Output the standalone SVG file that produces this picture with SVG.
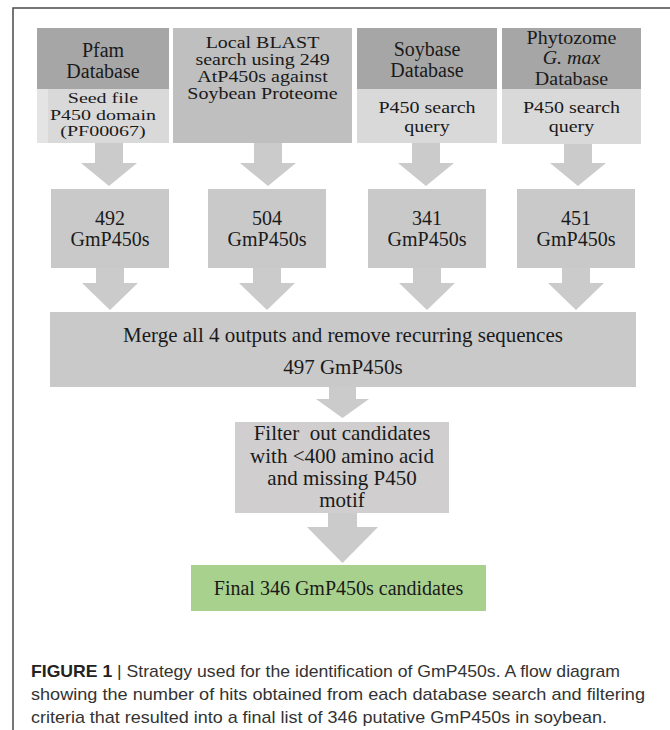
<svg xmlns="http://www.w3.org/2000/svg" width="670" height="730" viewBox="0 0 670 730">
<style>
.t{font-family:"Liberation Serif","Times New Roman",serif;font-size:20px;fill:#1a1a1a;text-anchor:middle}
.t21{font-size:21px}
.hd{fill:#a6a6a6}
.lt{fill:#d9d9d9}
.md{fill:#bfbfbf}
.gr{fill:#c9c9c9}
.fl{fill:#d0cece}
.gn{fill:#a9d18e}
.ar{fill:#cbcbcb}
.cap{font-family:"Liberation Sans",Arial,sans-serif;font-size:17px;fill:#333}
</style>
<rect width="670" height="730" fill="#ffffff"/>
<g id="frame" fill="none" stroke="#4a4a4a" stroke-width="1.5">
<path d="M13 730 V8 H670"/>
</g>
<g id="connectors">
<polygon class="ar" points="95,143 123,143 123,163 137,163 109,186 81,163 95,163"/>
<polygon class="ar" points="254,143 282,143 282,163 296,163 268,186 240,163 254,163"/>
<polygon class="ar" points="412,143 440,143 440,163 454,163 426,186 398,163 412,163"/>
<polygon class="ar" points="564,143 592,143 592,163 606,163 578,186 550,163 564,163"/>
<polygon class="ar" points="96,268 124,268 124,283 138,283 110,310 82,283 96,283"/>
<polygon class="ar" points="253,268 281,268 281,283 295,283 267,310 239,283 253,283"/>
<polygon class="ar" points="413,268 441,268 441,283 455,283 427,310 399,283 413,283"/>
<polygon class="ar" points="562,268 590,268 590,283 604,283 576,310 548,283 562,283"/>
<polygon class="ar" points="329,387 356,387 356,399 369,399 342.5,418 316,399 329,399"/>
<polygon class="ar" points="328,513 357,513 357,527 378,527 342.5,563 307,527 328,527"/>
</g>
<g id="pfam">
<rect class="hd" x="37" y="28" width="132" height="61"/>
<rect class="lt" x="37" y="89" width="132" height="54"/>
<rect x="37" y="89" width="11" height="54" fill="#e4e4e4"/>
<text class="t" x="103" y="57">Pfam</text>
<text class="t" x="103" y="78">Database</text>
<text class="t" transform="translate(103,103) scale(1,0.76)">Seed file</text>
<text class="t" transform="translate(103,119.5) scale(1,0.76)">P450 domain</text>
<text class="t" transform="translate(103,136) scale(1,0.76)">(PF00067)</text>
</g>
<g id="blast">
<rect class="md" x="173" y="28" width="179" height="115"/>
<text class="t" transform="translate(262.5,48) scale(1,0.82)">Local BLAST</text>
<text class="t" transform="translate(262.5,65) scale(1,0.82)">search using 249</text>
<text class="t" transform="translate(262.5,82) scale(1,0.82)">AtP450s against</text>
<text class="t" transform="translate(262.5,99) scale(1,0.82)">Soybean Proteome</text>
</g>
<g id="soybase">
<rect class="hd" x="357" y="28" width="140" height="61"/>
<rect class="lt" x="357" y="89" width="140" height="54"/>
<text class="t" x="427" y="56">Soybase</text>
<text class="t" x="427" y="77">Database</text>
<text class="t" transform="translate(427,113) scale(1,0.86)">P450 search</text>
<text class="t" transform="translate(427,132) scale(1,0.86)">query</text>
</g>
<g id="phytozome">
<rect class="hd" x="502" y="28" width="139" height="61"/>
<rect class="lt" x="502" y="89" width="139" height="55"/>
<text class="t" transform="translate(571.5,44) scale(1,0.9)">Phytozome</text>
<text class="t" transform="translate(571.5,64) scale(1,0.9)" font-style="italic">G. max</text>
<text class="t" transform="translate(571.5,85) scale(1,0.9)">Database</text>
<text class="t" transform="translate(571.5,113) scale(1,0.86)">P450 search</text>
<text class="t" transform="translate(571.5,132) scale(1,0.86)">query</text>
</g>
<g id="out1">
<rect class="gr" x="51" y="189" width="118" height="79"/>
<text class="t" x="110" y="225">492</text>
<text class="t" x="110" y="246">GmP450s</text>
</g>
<g id="out2">
<rect class="gr" x="208" y="189" width="118" height="79"/>
<text class="t" x="267" y="225">504</text>
<text class="t" x="267" y="246">GmP450s</text>
</g>
<g id="out3">
<rect class="gr" x="368" y="189" width="118" height="79"/>
<text class="t" x="427" y="225">341</text>
<text class="t" x="427" y="246">GmP450s</text>
</g>
<g id="out4">
<rect class="gr" x="517" y="189" width="118" height="79"/>
<text class="t" x="576" y="225">451</text>
<text class="t" x="576" y="246">GmP450s</text>
</g>
<g id="merge">
<rect class="gr" x="50" y="312" width="586" height="75"/>
<text class="t t21" x="343" y="342">Merge all 4 outputs and remove recurring sequences</text>
<text class="t t21" x="343" y="374">497 GmP450s</text>
</g>
<g id="filter">
<rect class="fl" x="235" y="422" width="214" height="91"/>
<text class="t t21" x="342" y="440" style="white-space:pre">Filter  out candidates</text>
<text class="t t21" x="342" y="463">with &lt;400 amino acid</text>
<text class="t t21" x="342" y="485">and missing P450</text>
<text class="t t21" x="342" y="507">motif</text>
</g>
<g id="final">
<rect class="gn" x="191" y="565" width="295" height="46"/>
<text class="t" x="338.5" y="595">Final 346 GmP450s candidates</text>
</g>
<g id="caption">
<text class="cap" x="31" y="677" textLength="589" lengthAdjust="spacingAndGlyphs"><tspan font-weight="bold" fill="#222">FIGURE 1</tspan> | Strategy used for the identification of GmP450s. A flow diagram</text>
<text class="cap" x="31" y="700" textLength="614" lengthAdjust="spacingAndGlyphs">showing the number of hits obtained from each database search and filtering</text>
<text class="cap" x="31" y="723" textLength="576" lengthAdjust="spacingAndGlyphs">criteria that resulted into a final list of 346 putative GmP450s in soybean.</text>
</g>
</svg>
